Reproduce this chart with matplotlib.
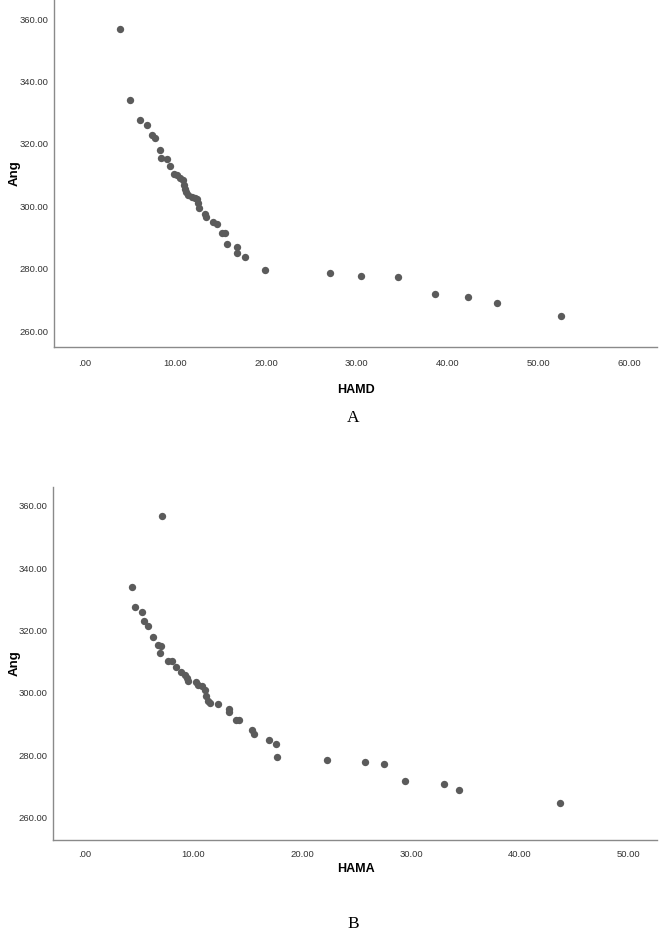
import matplotlib
matplotlib.use('Agg')
import matplotlib.pyplot as plt
from matplotlib.ticker import FuncFormatter, MultipleLocator

# panel A: HAMD vs Ang
hamd = [3.9, 5.0, 6.06, 6.9, 7.39, 7.75, 8.27, 8.38, 9.11, 9.37, 9.85, 10.14, 10.5,
        10.87, 10.98, 11.06, 11.13, 11.4, 11.8, 12.16, 12.4, 12.5, 12.6, 13.26, 13.37,
        14.1, 14.55, 15.1, 15.47, 15.66, 16.76, 16.76, 17.7, 19.88, 27.0, 30.5, 34.5,
        38.65, 42.3, 45.4, 52.5]
ang_a = [356.9, 334.0, 327.6, 326.0, 322.9, 321.9, 317.9, 315.4, 315.0, 312.9, 310.4,
         310.0, 308.9, 308.3, 306.7, 305.6, 304.5, 303.7, 303.1, 302.7, 302.2, 300.9,
         299.3, 297.4, 296.4, 295.0, 294.3, 291.3, 291.3, 287.9, 287.0, 284.9, 283.6,
         279.5, 278.7, 277.7, 277.3, 271.8, 270.9, 268.9, 264.8]

# panel B: HAMA vs Ang
hama = [7.16, 4.37, 4.65, 5.24, 5.45, 5.79, 6.25, 6.76, 6.98, 6.92, 7.68, 8.08, 8.39,
        8.85, 9.21, 9.43, 9.52, 10.2, 10.44, 10.75, 11.1, 11.2, 11.36, 11.57, 12.28,
        13.3, 13.3, 13.96, 14.2, 15.34, 15.55, 16.96, 17.6, 17.7, 22.3, 25.8, 27.56,
        29.4, 33.0, 34.45, 43.67]
ang_b = [356.8, 333.9, 327.5, 325.9, 322.9, 321.6, 317.9, 315.3, 314.9, 312.7, 310.3,
         310.1, 308.4, 306.7, 305.8, 304.8, 303.7, 303.3, 302.6, 302.3, 300.8, 298.8,
         297.5, 296.7, 296.4, 294.8, 293.7, 291.1, 291.1, 287.9, 286.9, 284.8, 283.5,
         279.5, 278.5, 277.6, 277.0, 271.7, 270.8, 268.7, 264.6]

W, H = 661, 934
fig = plt.figure(figsize=(W / 100, H / 100), dpi=100)

def fmt(v, pos):
    s = f'{v:.2f}'
    return s[1:] if s.startswith('0') else s  # SPSS style ".00"

def panel(rect, x, y, xlim, ylim, xpad):
    l, t, r, b = rect
    ax = fig.add_axes([l / W, 1 - b / H, (r - l) / W, (b - t) / H])
    ax.scatter(x, y, s=28, color='#5b5b5b', linewidths=0, zorder=3)
    ax.set_xlim(*xlim)
    ax.set_ylim(*ylim)
    ax.xaxis.set_major_locator(MultipleLocator(10))
    ax.yaxis.set_major_locator(MultipleLocator(20))
    ax.xaxis.set_major_formatter(FuncFormatter(fmt))
    ax.yaxis.set_major_formatter(FuncFormatter(fmt))
    for side in ['top', 'right']:
        ax.spines[side].set_visible(False)
    for side in ['left', 'bottom']:
        ax.spines[side].set_color('#8a8a8a')
        ax.spines[side].set_linewidth(1.0)
    ax.tick_params(length=0, labelsize=6.8, labelcolor='#333333')
    ax.tick_params(axis='x', pad=xpad)
    ax.tick_params(axis='y', pad=4)
    for lab in ax.get_xticklabels() + ax.get_yticklabels():
        lab.set_family('Liberation Sans')
    # y axis title
    fig.text(15 / W, 1 - (t + b) / 2 / H, 'Ang', rotation=90, ha='center', va='center',
             fontsize=9.5, fontweight='bold', family='Liberation Sans')
    return ax

panel((54, 0, 657, 347), hamd, ang_a, (-3.4, 63.1), (254.9, 366.1), 9)
panel((53, 487, 657, 840), hama, ang_b, (-2.9, 52.6), (252.7, 366.1), 7)

# axis titles and panel letters
fig.text(356 / W, 1 - 390 / H, 'HAMD', ha='center', va='center', fontsize=9,
         fontweight='bold', family='Liberation Sans')
fig.text(353 / W, 1 - 418 / H, 'A', ha='center', va='center', fontsize=12.5,
         family='Liberation Serif')
fig.text(356 / W, 1 - 869 / H, 'HAMA', ha='center', va='center', fontsize=9,
         fontweight='bold', family='Liberation Sans')
fig.text(353 / W, 1 - 924 / H, 'B', ha='center', va='center', fontsize=12.5,
         family='Liberation Serif')

fig.savefig('out.png', dpi=100, facecolor='white')
